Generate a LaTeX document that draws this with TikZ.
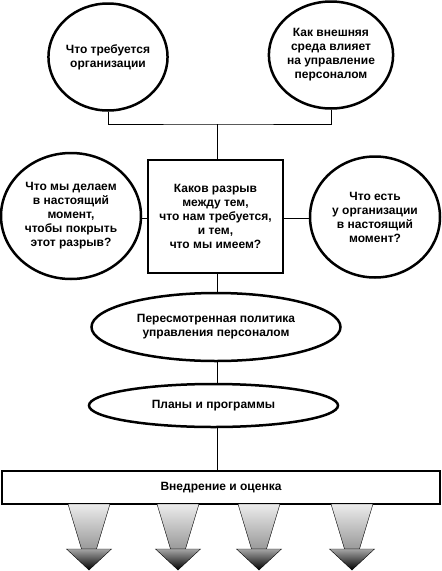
\documentclass[tikz,border=0pt]{standalone}
\usepackage{fontspec}
\setmainfont{Liberation Sans}
\usetikzlibrary{shapes.geometric}

\begin{document}
\begin{tikzpicture}[x=1pt,y=-1pt,thin,
  every node/.style={font=\fontsize{12}{14}\selectfont\bfseries,align=center,inner sep=0pt},
  circle node/.style={ellipse,draw,line width=2.5pt},
  box node/.style={rectangle,draw,line width=2.5pt,minimum width=135pt,minimum height=113pt},
  oval node/.style={ellipse,draw,line width=2.5pt,minimum width=249pt},
  bar node/.style={rectangle,draw,line width=2.5pt,minimum width=438pt,minimum height=33pt}]
  \useasboundingbox (0,0) rectangle (442,571);

  \node[circle node,minimum width=109pt,minimum height=107pt] (need) at (108,57) {Что требуется\\организации};
  \node[circle node,minimum width=111pt,minimum height=107pt] (env) at (331,55) {Как внешняя\\среда влияет\\на управление\\персоналом};
  \node[box node] (gap) at (215.5,216.5) {Каков разрыв\\между тем,\\что нам требуется,\\и тем,\\что мы имеем?};
  \node[circle node,minimum width=140pt,minimum height=126pt] (do) at (71,216) {Что мы делаем\\в настоящий\\момент,\\чтобы покрыть\\этот разрыв?};
  \node[circle node,minimum width=130pt,minimum height=121pt] (have) at (375,217) {Что есть\\у организации\\в настоящий\\момент?};
  \node[oval node,minimum height=68pt] (policy) at (216,327) {Пересмотренная политика\\управления персоналом};
  \node[oval node,minimum height=43pt] (plans) at (213.5,405.5) {Планы и программы};
  \node[bar node] (impl) at (221,487.5) {Внедрение и оценка};

  \coordinate (join) at (217,124);
  \draw (need.south) |- (join) -| (env.south);
  \draw (join) -- (join |- gap.north);
  \draw (do.east |- 0,218) -- (gap.west |- 0,218);
  \draw (gap.east |- 0,218) -- (have.west |- 0,218);
  \draw (217,0 |- gap.south) -- (217,0 |- policy.north);
  \draw (217,0 |- policy.south) -- (217,0 |- plans.north);
  \draw (217,0 |- plans.south) -- (217,0 |- impl.north);

  % arrows under the bar
  \foreach \x in {89,178,259,352} {
    \shadedraw[top color=gray!15,bottom color=gray!80,draw=black,thin]
      (\x-21,504) -- (\x+21,504) -- (\x+7.5,549) -- (\x-7.5,549) -- cycle;
    \shadedraw[top color=gray!70,bottom color=black,draw=black,thin]
      (\x-22.5,549) -- (\x+22.5,549) -- (\x,570) -- cycle;
  }
\end{tikzpicture}
\end{document}
